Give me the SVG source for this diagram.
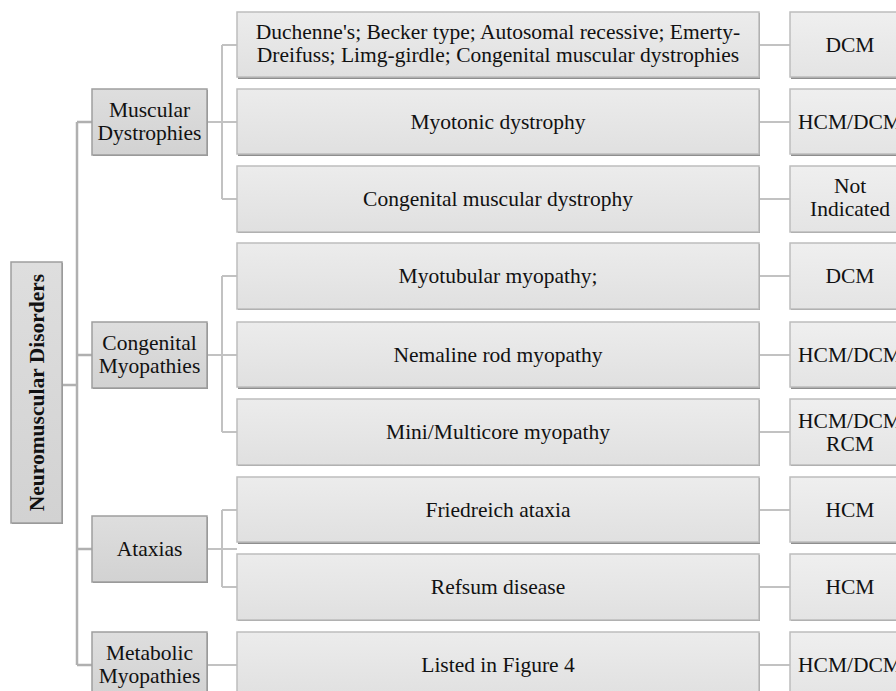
<svg xmlns="http://www.w3.org/2000/svg" width="896" height="691" viewBox="0 0 896 691">
<defs>
<linearGradient id="g1" x1="0" y1="0" x2="0" y2="1"><stop offset="0" stop-color="#dedede"/><stop offset="1" stop-color="#d2d2d2"/></linearGradient>
<linearGradient id="g2" x1="0" y1="0" x2="0" y2="1"><stop offset="0" stop-color="#ececec"/><stop offset="1" stop-color="#e0e0e0"/></linearGradient>
<linearGradient id="g3" x1="0" y1="0" x2="0" y2="1"><stop offset="0" stop-color="#efefef"/><stop offset="1" stop-color="#e4e4e4"/></linearGradient>
</defs>
<style>
text{font-family:"Liberation Serif","Times New Roman",serif;font-size:21.5px;fill:#111;text-anchor:middle}
.b1{fill:url(#g1);stroke:#9e9e9e;stroke-width:1.5}
.b2{fill:url(#g2);stroke:#bdbdbd;stroke-width:1.5}
.b3{fill:url(#g3);stroke:#bdbdbd;stroke-width:1.5}
.sh{fill:#8e8e8e}
.c{fill:none;stroke:#c2c2c2;stroke-width:2}
.t{fill:none;stroke:#b0b0b0;stroke-width:2.5}
.root{font-weight:bold}
</style>
<g id="connectors">
<path class="t" d="M62 385H77M77 122V665M77 122H92M77 355H92M77 549H92M77 665H92"/>
<path class="c" d="M207 122H237M222 45V199M222 45H237M222 199H237"/>
<path class="c" d="M207 355H237M222 276V432M222 276H237M222 432H237"/>
<path class="c" d="M207 549H237M222 510V587M222 510H237M222 587H237"/>
<path class="c" d="M207 665H237"/>
<path class="c" d="M759 45H790M759 122H790M759 199H790M759 276H790M759 355H790M759 432H790M759 510H790M759 587H790M759 665H790"/>
</g>
<g id="root">
<rect class="sh" x="12" y="263" width="51" height="261"/>
<rect class="b1" x="11" y="262" width="51" height="261"/>
<text class="root" transform="translate(44 392.5) rotate(-90)">Neuromuscular Disorders</text>
</g>
<g id="muscular-dystrophies">
<rect class="sh" x="93" y="90" width="115" height="66"/>
<rect class="b1" x="92" y="89" width="115" height="66"/>
<text x="149.5" y="117">Muscular</text><text x="149.5" y="140">Dystrophies</text>
</g>
<g id="congenital-myopathies">
<rect class="sh" x="93" y="323" width="115" height="66"/>
<rect class="b1" x="92" y="322" width="115" height="66"/>
<text x="149.5" y="350">Congenital</text><text x="149.5" y="373">Myopathies</text>
</g>
<g id="ataxias">
<rect class="sh" x="93" y="517" width="115" height="66"/>
<rect class="b1" x="92" y="516" width="115" height="66"/>
<text x="149.5" y="556">Ataxias</text>
</g>
<g id="metabolic-myopathies">
<rect class="sh" x="93" y="633" width="115" height="66"/>
<rect class="b1" x="92" y="632" width="115" height="66"/>
<text x="149.5" y="660">Metabolic</text><text x="149.5" y="683">Myopathies</text>
</g>
<g id="n-duchenne">
<rect class="sh" x="238" y="13" width="522" height="66"/>
<rect class="b2" x="237" y="12" width="522" height="65"/>
<text x="498" y="39">Duchenne's; Becker type; Autosomal recessive; Emerty-</text>
<text x="498" y="62">Dreifuss; Limg-girdle; Congenital muscular dystrophies</text>
</g>
<g id="n-myotonic">
<rect class="sh" x="238" y="90" width="522" height="66"/>
<rect class="b2" x="237" y="89" width="522" height="65"/>
<text x="498" y="129">Myotonic dystrophy</text>
</g>
<g id="n-congenital-md">
<rect class="sh" x="238" y="167" width="522" height="66"/>
<rect class="b2" x="237" y="166" width="522" height="66"/>
<text x="498" y="206">Congenital muscular dystrophy</text>
</g>
<g id="n-myotubular">
<rect class="sh" x="238" y="244" width="522" height="66"/>
<rect class="b2" x="237" y="243" width="522" height="66"/>
<text x="498" y="283">Myotubular myopathy;</text>
</g>
<g id="n-nemaline">
<rect class="sh" x="238" y="323" width="522" height="66"/>
<rect class="b2" x="237" y="322" width="522" height="65"/>
<text x="498" y="362">Nemaline rod myopathy</text>
</g>
<g id="n-minicore">
<rect class="sh" x="238" y="400" width="522" height="66"/>
<rect class="b2" x="237" y="399" width="522" height="66"/>
<text x="498" y="439">Mini/Multicore myopathy</text>
</g>
<g id="n-friedreich">
<rect class="sh" x="238" y="478" width="522" height="66"/>
<rect class="b2" x="237" y="477" width="522" height="65"/>
<text x="498" y="517">Friedreich ataxia</text>
</g>
<g id="n-refsum">
<rect class="sh" x="238" y="555" width="522" height="66"/>
<rect class="b2" x="237" y="554" width="522" height="66"/>
<text x="498" y="594">Refsum disease</text>
</g>
<g id="n-figure4">
<rect class="sh" x="238" y="633" width="522" height="66"/>
<rect class="b2" x="237" y="632" width="522" height="66"/>
<text x="498" y="672">Listed in Figure 4</text>
</g>
<g id="r1"><rect class="sh" x="791" y="13" width="120" height="66"/><rect class="b3" x="790" y="12" width="120" height="65"/><text x="850" y="52">DCM</text></g>
<g id="r2"><rect class="sh" x="791" y="90" width="120" height="66"/><rect class="b3" x="790" y="89" width="120" height="65"/><text x="850" y="129">HCM/DCM</text></g>
<g id="r3"><rect class="sh" x="791" y="167" width="120" height="66"/><rect class="b3" x="790" y="166" width="120" height="66"/><text x="850" y="193">Not</text><text x="850" y="216">Indicated</text></g>
<g id="r4"><rect class="sh" x="791" y="244" width="120" height="66"/><rect class="b3" x="790" y="243" width="120" height="66"/><text x="850" y="283">DCM</text></g>
<g id="r5"><rect class="sh" x="791" y="323" width="120" height="66"/><rect class="b3" x="790" y="322" width="120" height="65"/><text x="850" y="362">HCM/DCM</text></g>
<g id="r6"><rect class="sh" x="791" y="400" width="120" height="66"/><rect class="b3" x="790" y="399" width="120" height="66"/><text x="850" y="428">HCM/DCM</text><text x="850" y="451">RCM</text></g>
<g id="r7"><rect class="sh" x="791" y="478" width="120" height="66"/><rect class="b3" x="790" y="477" width="120" height="65"/><text x="850" y="517">HCM</text></g>
<g id="r8"><rect class="sh" x="791" y="555" width="120" height="66"/><rect class="b3" x="790" y="554" width="120" height="66"/><text x="850" y="594">HCM</text></g>
<g id="r9"><rect class="sh" x="791" y="633" width="120" height="66"/><rect class="b3" x="790" y="632" width="120" height="66"/><text x="850" y="672">HCM/DCM</text></g>
</svg>
